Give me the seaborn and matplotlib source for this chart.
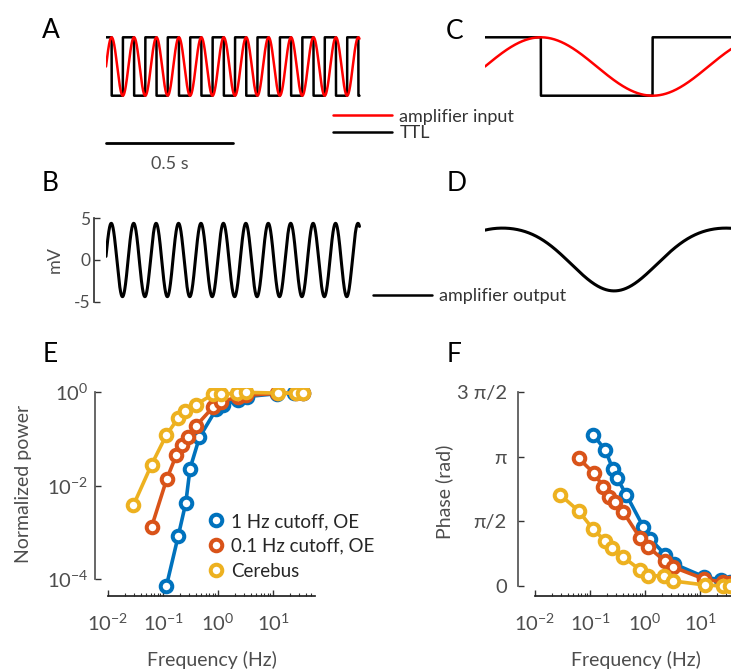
import matplotlib
matplotlib.use("Agg")
import matplotlib.pyplot as plt
import matplotlib.transforms as mtransforms
import numpy as np
import pandas as pd
import seaborn as sns
from matplotlib.ticker import FixedFormatter, FixedLocator, LogLocator, NullFormatter, NullLocator

stim_freq_hz = 11.3
trace_duration_s = 1.0
output_amplitude_mv = 4.4
output_phase_rad = 0.1
zoom_window_s = 0.103
zoom_output_phase_rad = 1.08
zoom_output_h2 = 0.12
scale_bar_s = 0.5

# Panel E/F data
systems = ["1 Hz cutoff, OE", "0.1 Hz cutoff, OE", "Cerebus"]
colors = ["#0072BD", "#D95319", "#EDB120"]

freq_1hz = [0.115, 0.19, 0.26, 0.31, 0.46, 0.93, 1.25, 2.35, 3.4, 12, 24, 35]
power_1hz = [7e-5, 8.5e-4, 4.3e-3, 0.023, 0.107, 0.43, 0.53, 0.67, 0.80, 0.92, 0.95, 0.95]
phase_1hz = [1.167, 1.05, 0.904, 0.835, 0.703, 0.458, 0.363, 0.24, 0.17, 0.07, 0.046, 0.03]

freq_01hz = [0.062, 0.117, 0.175, 0.22, 0.28, 0.40, 0.82, 1.15, 2.3, 3.2, 12, 26, 35]
power_01hz = [1.3e-3, 0.0138, 0.045, 0.074, 0.11, 0.19, 0.48, 0.62, 0.78, 0.85, 0.93, 0.95, 0.95]
phase_01hz = [0.987, 0.873, 0.767, 0.69, 0.65, 0.574, 0.369, 0.30, 0.193, 0.147, 0.054, 0.03, 0.023]

freq_cb = [0.029, 0.062, 0.115, 0.19, 0.25, 0.40, 0.82, 1.15, 2.2, 3.2, 12.2, 26, 35]
power_cb = [3.8e-3, 0.028, 0.12, 0.28, 0.40, 0.54, 0.90, 0.90, 0.94, 0.98, 0.95, 0.95, 0.95]
phase_cb = [0.703, 0.58, 0.437, 0.348, 0.294, 0.224, 0.124, 0.081, 0.077, 0.039, 0.008, 0.0, 0.0]

W, H = 731, 670
TXT = "#4d4d4d"
AX = "#333333"

sns.set_theme(style="ticks")
plt.rcParams["font.family"] = ["Lato", "DejaVu Sans"]
plt.rcParams["mathtext.fontset"] = "custom"
plt.rcParams["mathtext.rm"] = "Lato"

fig = plt.figure(figsize=(W / 100, H / 100), dpi=100)


def add_ax(left, top, right, bottom):
    # Axes from pixel box
    return fig.add_axes([left / W, 1 - bottom / H, (right - left) / W, (bottom - top) / H])


def fxy(x, y):
    return x / W, 1 - y / H


# Build traces
t = np.linspace(0, trace_duration_s, 20001)
theta = 2 * np.pi * stim_freq_hz * t
amp_in = np.sin(theta)
ttl = np.where(np.cos(theta) >= 0, 1.0, -1.0)
amp_out = output_amplitude_mv * np.sin(theta + output_phase_rad)

tz = np.linspace(0, zoom_window_s, 6001)
thz = 2 * np.pi * stim_freq_hz * tz
zin = np.sin(thz)
zttl = np.where(np.cos(thz) >= 0, 1.0, -1.0)
ph = thz + zoom_output_phase_rad
zout = np.sin(ph) + zoom_output_h2 * (1 + np.cos(2 * ph))

# Panel A
ax_a = add_ax(106, 25, 362, 110)
sns.lineplot(x=t, y=ttl, ax=ax_a, color="black", linewidth=1.8, estimator=None, sort=False)
sns.lineplot(x=t, y=amp_in, ax=ax_a, color="#ff0000", linewidth=1.8, estimator=None, sort=False)
ax_a.set_xlim(0, 1.01)
ax_a.set_ylim(-(110 - 66.5) / 29.2, (66.5 - 25) / 29.2)
ax_a.axis("off")
bt = mtransforms.blended_transform_factory(ax_a.transData, fig.transFigure)
ax_a.plot([0, scale_bar_s], [1 - 142.7 / H] * 2, color="black", lw=2, transform=bt, clip_on=False)
ax_a.text(scale_bar_s / 2, 1 - 164 / H, f"{scale_bar_s} s", transform=bt, ha="center", va="center",
          fontsize=13, color=TXT)
ax_a.legend(handles=[ax_a.lines[1], ax_a.lines[0]], labels=["amplifier input", "TTL"],
            loc="center left", bbox_to_anchor=fxy(333, 125), bbox_transform=fig.transFigure,
            frameon=False, fontsize=13, handlelength=3.27, handletextpad=0.4,
            borderpad=0, borderaxespad=0, labelspacing=0.05, labelcolor="#333333")

# Panel C
ax_c = add_ax(485, 25, 745, 110)
sns.lineplot(x=tz, y=zttl, ax=ax_c, color="black", linewidth=1.8, estimator=None, sort=False)
sns.lineplot(x=tz, y=zin, ax=ax_c, color="#ff0000", linewidth=1.8, estimator=None, sort=False)
ax_c.set_xlim(0, zoom_window_s)
ax_c.set_ylim(-(110 - 66.5) / 29.2, (66.5 - 25) / 29.2)
ax_c.axis("off")

# Panel B
ax_b = add_ax(106, 205, 362, 315)
sns.lineplot(x=t, y=amp_out, ax=ax_b, color="black", linewidth=2.2, estimator=None, sort=False)
ax_b.set_xlim(0, 1.01)
ax_b.set_ylim(-(315 - 260) / 8.34, (260 - 205) / 8.34)
for s in ["top", "right", "bottom"]:
    ax_b.spines[s].set_visible(False)
ax_b.spines["left"].set_position(("outward", 8.4))
ax_b.spines["left"].set_bounds(-5, 5)
ax_b.spines["left"].set_color(AX)
ax_b.set_xticks([])
ax_b.set_yticks([5, 0, -5])
ax_b.set_yticklabels(["5", "0", "-5"])
ax_b.tick_params(axis="y", direction="in", length=4, width=1, color=AX, labelcolor=TXT,
                 labelsize=12.5, pad=3)
ax_b.set_ylabel("mV", fontsize=13, color=TXT, va="center")
ax_b.yaxis.set_label_coords((55 - 106) / 256, 0.5)
ax_b.legend(handles=[ax_b.lines[0]], labels=["amplifier output"], loc="center left",
            bbox_to_anchor=fxy(373, 296), bbox_transform=fig.transFigure, frameon=False,
            fontsize=13, handlelength=3.27, handletextpad=0.4, borderpad=0, borderaxespad=0,
            labelcolor="#333333")
ax_b.get_legend().get_lines()[0].set_linewidth(1.8)

# Panel D
ax_d = add_ax(485, 200, 745, 320)
sns.lineplot(x=tz, y=zout, ax=ax_d, color="black", linewidth=2.2, estimator=None, sort=False)
ax_d.set_xlim(0, zoom_window_s)
ax_d.set_ylim(-(320 - 259.5) / 31.4, (259.5 - 200) / 31.4)
ax_d.axis("off")

# Panels E/F data table
df = pd.concat([
    pd.DataFrame({"system": systems[0], "freq": freq_1hz, "power": power_1hz, "phase": phase_1hz}),
    pd.DataFrame({"system": systems[1], "freq": freq_01hz, "power": power_01hz, "phase": phase_01hz}),
    pd.DataFrame({"system": systems[2], "freq": freq_cb, "power": power_cb, "phase": phase_cb}),
], ignore_index=True)
df["phase_rad"] = df["phase"] * np.pi

line_kws = dict(marker="o", linewidth=2.6, estimator=None, sort=False, legend=False)


def style_freq_axis(ax, left_offset, ypad):
    ax.set_xscale("log")
    ax.set_xlim(0.01, 58)
    ax.xaxis.set_major_locator(FixedLocator([1e-2, 1e-1, 1e0, 1e1]))
    ax.xaxis.set_minor_locator(LogLocator(base=10, subs=np.arange(2, 10), numticks=20))
    ax.xaxis.set_minor_formatter(NullFormatter())
    for s in ["top", "right"]:
        ax.spines[s].set_visible(False)
    ax.spines["left"].set_position(("outward", left_offset))
    ax.spines["left"].set_color("#555555")
    ax.spines["bottom"].set_color("#222222")
    ax.tick_params(axis="x", which="major", direction="in", length=4, width=1, color=AX,
                   labelcolor=TXT, labelsize=14.5, pad=12)
    ax.tick_params(axis="x", which="minor", direction="in", length=2, width=0.8, color=AX)
    ax.tick_params(axis="y", which="major", direction="in", length=4, width=1, color=AX,
                   labelcolor=TXT, labelsize=14.5, pad=ypad)
    ax.set_xlabel("Frequency (Hz)", fontsize=14, color=TXT)


def style_markers(ax):
    # Open circles with white fill
    for ln in ax.lines:
        ln.set_markersize(8.3)
        ln.set_markeredgewidth(2.9)
        ln.set_markerfacecolor("white")
        ln.set_markeredgecolor(ln.get_color())


# Panel E
ax_e = add_ax(108, 388, 315, 596)
ax_e.set_yscale("log")
style_freq_axis(ax_e, 9.4, 5)
sns.lineplot(data=df, x="freq", y="power", hue="system", hue_order=systems, palette=colors,
             ax=ax_e, **line_kws)
style_markers(ax_e)
ax_e.set_ylim(10 ** (-(596 - 392) / 46.75), 10 ** ((392 - 388) / 46.75))
ax_e.yaxis.set_major_locator(FixedLocator([1e-4, 1e-2, 1e0]))
ax_e.yaxis.set_minor_locator(NullLocator())
ax_e.spines["left"].set_bounds(1e-4, 1)
ax_e.set_ylabel("Normalized power", fontsize=14, color=TXT, va="center")
ax_e.yaxis.set_label_coords((24 - 108) / 207, (596 - 484) / 208)
ax_e.xaxis.set_label_coords(0.5, -(660 - 596) / 208)
ax_e.xaxis.label.set_va("center")
leg = ax_e.legend(handles=ax_e.lines[:3], labels=systems, loc="upper left",
                  bbox_to_anchor=fxy(208, 513), bbox_transform=fig.transFigure, frameon=False,
                  fontsize=13.5, handlelength=0.9, handletextpad=0.35, borderpad=0,
                  borderaxespad=0, labelspacing=0.42, labelcolor="#262626")
for ln in leg.get_lines():
    ln.set_linestyle("none")

# Panel F
ax_f = add_ax(535, 388, 742, 596)
ax_f.set_xscale("log")
style_freq_axis(ax_f, 12.2, 8)
sns.lineplot(data=df, x="freq", y="phase_rad", hue="system", hue_order=systems, palette=colors,
             ax=ax_f, **line_kws)
style_markers(ax_f)
ax_f.set_ylim(-(596 - 586) / 129.4 * np.pi, (586 - 388) / 129.4 * np.pi)
ax_f.yaxis.set_major_locator(FixedLocator([0, np.pi / 2, np.pi, 1.5 * np.pi]))
ax_f.yaxis.set_major_formatter(FixedFormatter(["0", "π/2", "π", "3 π/2"]))
ax_f.spines["left"].set_bounds(0, 1.5 * np.pi)
ax_f.set_ylabel("Phase (rad)", fontsize=14, color=TXT, va="center")
ax_f.yaxis.set_label_coords((444.5 - 535) / 207, (596 - 491.5) / 208)
ax_f.xaxis.set_label_coords((636 - 535) / 207, -(660 - 596) / 208)
ax_f.xaxis.label.set_va("center")

# Panel letters
for letter, x, y in [("A", 42, 38.3), ("B", 42, 191), ("C", 446, 39),
                     ("D", 446.5, 191), ("E", 42.3, 362.3), ("F", 446.7, 362.3)]:
    fig.text(*fxy(x, y), letter, fontsize=19, color="black", ha="left", va="baseline")

fig.savefig("out.png", dpi=100)
